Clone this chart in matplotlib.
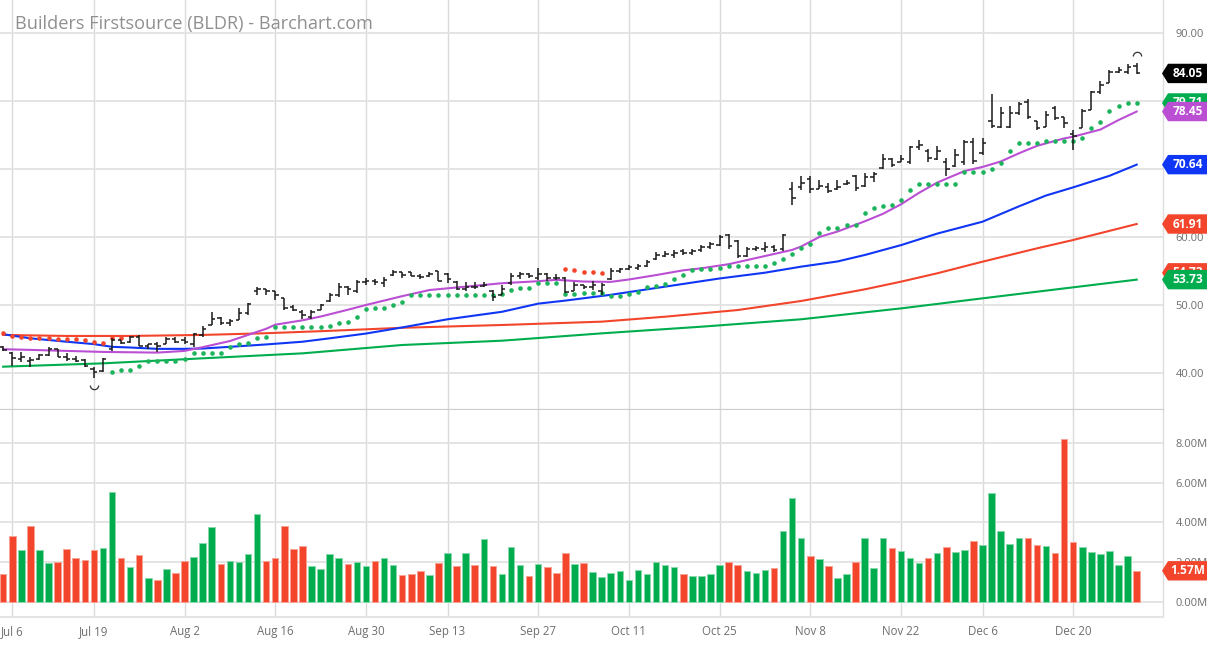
import numpy as np
import matplotlib.pyplot as plt
from matplotlib.patches import Polygon
from matplotlib.path import Path

plt.rcParams['font.family'] = ['Open Sans', 'DejaVu Sans']

# ---- daten (BLDR, 02.07.2021 - 30.12.2021, Handelstage) ----
opens = [43.8, 43.0, 42.0, 41.8, 42.0, 42.6, 43.5, 42.4, 42.0, 41.9,
         40.6, 40.3, 43.5, 44.8, 44.5, 45.3, 44.0, 44.2, 44.3, 45.0,
         44.9, 44.2, 45.6, 47.1, 48.1, 47.3, 47.8, 48.8, 52.0, 52.3,
         52.0, 51.0, 49.7, 49.0, 48.3, 49.3, 50.6, 51.4, 52.6, 52.0,
         53.4, 53.6, 53.3, 54.4, 54.8, 54.8, 54.2, 54.2, 55.0, 54.5,
         53.4, 52.3, 52.6, 52.8, 52.0, 51.5, 53.2, 54.3, 54.6, 53.9,
         54.5, 54.0, 53.9, 52.0, 52.9, 52.6, 52.0, 53.8, 55.0, 55.3,
         55.5, 55.8, 56.7, 57.2, 57.4, 57.9, 57.6, 58.1, 58.5, 58.8,
         60.3, 59.4, 57.2, 58.2, 58.3, 58.6, 58.2, 67.0, 67.3, 68.5,
         67.0, 67.4, 67.0, 67.8, 69.0, 67.5, 68.8, 70.2, 71.4, 71.1,
         71.0, 73.3, 72.7, 71.5, 71.0, 70.5, 71.0, 74.0, 72.3, 77.0,
         76.2, 76.2, 78.3, 79.8, 77.0, 76.2, 79.0, 77.6, 75.2, 76.0,
         78.7, 81.3, 82.6, 84.3, 84.2, 85.2]
highs = [43.9, 43.1, 43.1, 42.3, 42.8, 43.8, 43.5, 42.9, 42.5, 42.0,
         40.9, 42.2, 45.1, 44.9, 45.5, 45.6, 44.3, 44.6, 45.3, 45.3,
         45.3, 45.9, 46.9, 49.0, 48.2, 47.9, 49.5, 50.3, 52.7, 52.4,
         52.0, 51.0, 50.0, 49.3, 49.3, 50.2, 51.7, 53.2, 52.8, 53.7,
         53.9, 53.8, 54.1, 55.1, 54.9, 54.9, 54.6, 54.9, 55.05, 54.7,
         53.5, 53.4, 53.4, 53.4, 52.2, 52.9, 54.75, 54.9, 54.7, 55.4,
         54.7, 54.5, 54.1, 53.4, 53.0, 53.6, 53.2, 55.4, 55.5, 55.9,
         56.1, 56.6, 57.8, 58.0, 58.1, 58.2, 58.3, 58.8, 59.3, 60.3,
         60.5, 59.6, 58.6, 58.7, 59.3, 58.8, 60.4, 68.1, 68.9, 68.9,
         68.4, 67.9, 68.4, 68.4, 69.1, 69.4, 69.6, 72.2, 71.6, 72.06,
         73.4, 74.2, 72.9, 73.4, 71.6, 73.0, 74.3, 74.5, 74.5, 81.0,
         79.1, 79.2, 79.8, 80.25, 77.0, 78.6, 79.2, 77.7, 75.7, 78.8,
         81.5, 82.9, 84.56, 85.05, 85.5, 85.65]
lows = [43.3, 41.1, 41.6, 40.9, 41.9, 42.5, 42.3, 41.7, 41.6, 40.9,
        39.2, 40.2, 43.3, 44.2, 44.4, 43.9, 43.6, 43.1, 44.2, 44.4,
        44.3, 43.8, 45.3, 47.0, 47.0, 46.9, 47.8, 48.6, 51.5, 51.5,
        50.8, 49.2, 49.1, 48.0, 48.0, 49.2, 50.5, 51.2, 51.5, 51.8,
        52.9, 52.9, 52.7, 54.2, 53.9, 54.2, 53.8, 54.1, 53.5, 53.2,
        52.2, 52.0, 52.4, 52.7, 50.6, 51.5, 53.0, 53.8, 53.9, 53.7,
        53.6, 53.7, 51.7, 52.0, 52.3, 52.2, 51.5, 53.7, 54.7, 55.15,
        55.2, 55.6, 56.6, 57.0, 56.9, 57.35, 57.4, 57.8, 58.3, 58.7,
        58.3, 56.9, 57.1, 58.0, 57.8, 57.8, 58.0, 64.7, 66.9, 66.5,
        67.0, 66.5, 66.9, 67.6, 66.8, 67.4, 68.1, 70.0, 70.3, 71.1,
        70.8, 72.8, 71.1, 71.3, 69.0, 70.3, 70.6, 70.8, 72.06, 76.0,
        76.0, 76.0, 77.9, 77.4, 75.7, 76.2, 77.2, 76.0, 72.8, 76.0,
        78.7, 81.0, 82.6, 84.07, 84.0, 83.97]
closes = [43.4, 42.2, 42.4, 41.9, 42.6, 43.6, 42.4, 42.1, 41.8, 41.0,
          40.2, 42.0, 44.9, 44.4, 45.3, 44.0, 44.2, 44.0, 45.0, 44.6,
          44.5, 45.8, 46.4, 48.0, 47.4, 47.6, 48.8, 50.2, 52.3, 52.0,
          51.5, 49.6, 49.2, 48.5, 49.0, 50.0, 51.5, 52.6, 52.3, 53.4,
          53.6, 53.4, 53.7, 54.9, 54.4, 54.3, 54.1, 54.5, 53.6, 53.8,
          52.4, 52.7, 52.6, 53.0, 51.2, 52.4, 54.3, 54.6, 54.2, 54.6,
          54.0, 53.9, 51.9, 53.0, 52.6, 52.9, 53.0, 55.0, 55.3, 55.6,
          55.7, 56.3, 57.3, 57.5, 57.7, 57.6, 58.0, 58.5, 59.0, 60.0,
          58.7, 57.2, 58.2, 58.4, 58.6, 58.1, 60.3, 65.8, 68.0, 67.0,
          67.5, 66.8, 67.3, 67.9, 67.2, 68.8, 69.2, 71.5, 70.6, 71.4,
          73.2, 73.6, 71.6, 72.6, 70.0, 72.0, 74.0, 71.2, 73.8, 76.3,
          78.2, 78.3, 79.5, 77.6, 76.0, 77.9, 77.5, 76.8, 74.8, 78.6,
          81.3, 82.3, 84.2, 84.6, 85.0, 84.05]

# Volumen in Mio. Stueck, 1 = Schlusskurs gestiegen
volumen = [1.43, 3.31, 2.6, 3.81, 2.6, 1.98, 2.02, 2.66, 2.22, 2.1,
           2.6, 2.7, 5.51, 2.22, 1.75, 2.34, 1.19, 1.13, 1.68, 1.45,
           2.05, 2.25, 2.96, 3.78, 1.92, 2.05, 2.02, 2.39, 4.42, 2.05,
           2.22, 3.81, 2.69, 2.84, 1.8, 1.66, 2.39, 2.22, 1.9, 2.0,
           1.83, 2.05, 2.2, 1.85, 1.38, 1.41, 1.58, 1.38, 1.95, 2.49,
           1.8, 2.44, 1.85, 3.16, 1.8, 1.39, 2.76, 1.87, 1.33, 1.93,
           1.75, 1.45, 2.44, 1.93, 1.95, 1.5, 1.27, 1.45, 1.58, 1.09,
           1.63, 1.39, 2.02, 1.88, 1.75, 1.39, 1.33, 1.29, 1.41, 1.87,
           2.02, 1.87, 1.58, 1.46, 1.63, 1.7, 3.56, 5.24, 3.21, 2.29,
           2.18, 1.8, 1.23, 1.41, 2.02, 3.21, 1.73, 3.21, 2.71, 2.55,
           2.22, 1.95, 2.2, 2.44, 2.77, 2.54, 2.64, 3.09, 2.86, 5.48,
           3.58, 2.94, 3.21, 3.21, 2.89, 2.84, 2.47, 8.2, 3.01, 2.77,
           2.5, 2.39, 2.55, 1.88, 2.32, 1.57]
vol_up = [0, 0, 1, 0, 1, 1, 0, 0, 0, 0,
          0, 1, 1, 0, 1, 0, 1, 0, 1, 0,
          0, 1, 1, 1, 0, 1, 1, 1, 1, 0,
          0, 0, 0, 0, 1, 1, 1, 1, 0, 1,
          1, 0, 1, 1, 0, 0, 0, 1, 0, 1,
          0, 1, 0, 1, 0, 1, 1, 1, 0, 1,
          0, 0, 0, 1, 0, 1, 1, 1, 1, 1,
          1, 1, 1, 1, 1, 0, 1, 1, 1, 1,
          0, 0, 1, 1, 1, 0, 1, 1, 1, 0,
          1, 0, 1, 1, 0, 1, 1, 1, 0, 1,
          1, 1, 0, 1, 0, 1, 1, 0, 1, 1,
          1, 1, 1, 0, 0, 1, 0, 0, 0, 1,
          1, 1, 1, 1, 1, 0]

# Parabolic SAR (unten gruen / oben rot), None = kein Punkt
sar_unten = [None] * 12 + [
    40.2, 40.5, 40.44, 41.0, 41.8, 41.8, 41.8, 41.8,
    42.06, 42.9, 42.9, 42.9, 43.0, 43.77, 44.26, 44.46, 45.1, 45.34,
    46.7, 46.7, 46.7, 46.7, 46.7, 46.7, 46.9, 47.4, 47.55, 48.28,
    49.4, 49.5, 49.5, 50.0, 50.5, 51.4, 51.4, 51.4, 51.4, 51.4,
    51.4, 51.4, 51.4, 51.4, 51.45, 51.6, 52.2, 52.45, 52.55, 53.19,
    53.19, 53.19, 51.57, 51.57, 51.7, 51.7, 51.7, 51.27, 51.27, 51.6,
    51.86, 52.7, 52.75, 53.14, 53.77, 54.46, 55.15, 55.25, 55.25, 55.4,
    55.74, 55.74, 55.74, 55.74, 55.74, 56.13, 56.7, 57.45, 58.33, 58.97,
    60.54, 61.37, 61.37, 61.76, 61.76, 63.58, 64.3, 64.56, 64.7, 65.44,
    66.9, 67.8, 67.8, 67.8, 67.8, 67.8, 69.5, 69.5, 69.5, 70.0,
    70.93, 72.6, 73.87, 73.87, 73.87, 74.1, 74.17, 74.17, 74.17, 74.6,
    75.98, 76.96, 78.53, 79.26, 79.71, 79.71]
sar_oben = [45.93, 45.44, 45.25, 45.2, 45.2, 45.15, 45.0, 45.0, 45.0, 44.9,
            44.56, 44.36, 45.2, 45.2] + [None] * 48 + \
           [55.29, 55.2, 54.85, 54.85, 54.73] + [None] * 59

# gleitende Durchschnitte (Position, Wert)
ma20_x = [0, 3, 7, 11, 14, 17, 20, 22, 25, 27, 29, 30, 33, 35, 38, 40, 44, 47,
          51, 55, 59, 61, 64, 67, 69, 72, 75, 77, 80, 83, 85, 87, 88, 90, 92,
          95, 97, 99, 101, 103, 106, 108, 110, 112, 114, 117, 118, 121, 123, 125]
ma20_y = [43.5, 43.4, 43.25, 43.1, 43.05, 43.0, 43.25, 43.8, 44.7, 45.6, 46.5,
          47.1, 47.75, 48.3, 49.3, 50.0, 51.3, 52.2, 52.7, 53.2, 53.5, 53.7,
          53.45, 53.4, 53.75, 54.4, 55.1, 55.4, 56.0, 56.9, 57.5, 58.1, 58.6,
          60.0, 60.8, 62.3, 63.4, 64.8, 66.5, 68.0, 69.7, 70.3, 71.1, 72.3,
          73.4, 74.5, 74.75, 75.8, 77.2, 78.45]
ma50_x = [0, 3, 7, 10, 12, 14, 17, 20, 22, 25, 29, 33, 36, 40, 44, 49, 55, 59,
          62, 67, 73, 79, 84, 88, 92, 95, 99, 103, 108, 112, 115, 118, 122, 125]
ma50_y = [45.7, 45.1, 44.6, 44.25, 43.85, 43.75, 43.55, 43.55, 43.6, 43.85,
          44.2, 44.6, 45.1, 45.8, 46.7, 47.9, 49.0, 50.2, 50.65, 51.5, 52.7,
          53.9, 54.75, 55.64, 56.4, 57.35, 58.8, 60.5, 62.25, 64.5, 66.1,
          67.3, 69.0, 70.64]
ma100_x = [0, 7, 14, 22, 29, 36, 44, 55, 66, 73, 81, 88, 95, 99, 103, 108,
           114, 118, 125]
ma100_y = [45.6, 45.45, 45.45, 45.6, 45.85, 46.2, 46.65, 47.06, 47.55, 48.28,
           49.26, 50.59, 52.3, 53.43, 54.66, 56.37, 58.33, 59.56, 61.91]
ma200_x = [0, 11, 22, 33, 44, 55, 66, 77, 88, 99, 108, 118, 125]
ma200_y = [40.93, 41.42, 42.16, 42.89, 44.12, 44.75, 45.83, 46.81, 47.9,
           49.5, 50.98, 52.6, 53.73]

tick_pos = [1, 10, 20, 30, 40, 49, 59, 69, 79, 89, 99, 108, 118]
tick_labels = ["Jul 6", "Jul 19", "Aug 2", "Aug 16", "Aug 30", "Sep 13",
               "Sep 27", "Oct 11", "Oct 25", "Nov 8", "Nov 22", "Dec 6",
               "Dec 20"]

# ---- Farben ----
GRUEN = "#00ad4e"
ROT = "#f2452b"
MAGENTA = "#bb4fd4"
BLAU = "#1036f5"
GRID = "#e2e2e2"

W, H = 1219, 645
fig = plt.figure(figsize=(W / 100, H / 100), dpi=100)
ax = fig.add_axes([0, 1 - 410 / H, 1163 / W, 410 / H])
axv = fig.add_axes([0, 1 - 617 / H, 1163 / W, 207 / H], sharex=ax)

idx = np.arange(len(closes))
o = np.array(opens)
c = np.array(closes)

# Preis-Panel
ax.plot(ma200_x, ma200_y, color=GRUEN, lw=1.5, zorder=3)
ax.plot(ma100_x, ma100_y, color=ROT, lw=1.5, zorder=3)
ax.plot(ma50_x, ma50_y, color=BLAU, lw=1.5, zorder=3)
ax.plot(ma20_x, ma20_y, color=MAGENTA, lw=1.5, zorder=3)

su = np.array([np.nan if v is None else v for v in sar_unten])
so = np.array([np.nan if v is None else v for v in sar_oben])
ax.plot(idx, su, "o", ms=3.3, color="#1db35c", mec="none", zorder=3.5)
ax.plot(idx, so, "o", ms=3.3, color=ROT, mec="none", zorder=3.5)

ax.vlines(idx, lows, highs, color="#1a1a1a", lw=1.1, zorder=4)
ax.hlines(o, idx - 0.38, idx, color="#1a1a1a", lw=1.1, zorder=4)
ax.hlines(c, idx, idx + 0.38, color="#1a1a1a", lw=1.1, zorder=4)

# Hoch/Tief-Markierung
hi = int(np.argmax(highs))
lo = int(np.argmin(lows))
ax.plot(hi, highs[hi] + 0.9, marker=Path.arc(0, 180), ms=6, mfc="none",
        mec="#333333", mew=0.9, zorder=4)
ax.plot(lo, lows[lo] - 0.9, marker=Path.arc(180, 360), ms=6, mfc="none",
        mec="#333333", mew=0.9, zorder=4)

ax.set_xlim(-0.35, 127.9)
ax.set_ylim(34.56, 94.85)
ax.set_yticks([40, 50, 60, 70, 80, 90])
ax.set_yticklabels([f"{v:.2f}" for v in [40, 50, 60, 70, 80, 90]])

# Volumen-Panel
farben = [GRUEN if u else ROT for u in vol_up]
kanten = ["#8ad9ad" if u else "#f9a393" for u in vol_up]
axv.bar(idx, volumen, width=0.72, color=farben, edgecolor=kanten,
        linewidth=0.7, zorder=3)
axv.set_ylim(-0.755, 9.66)
axv.set_yticks([0, 2, 4, 6, 8])
axv.set_yticklabels([f"{v:.2f}M" for v in [0, 2, 4, 6, 8]])
axv.set_xticks(tick_pos)
axv.set_xticklabels(tick_labels)

for a in (ax, axv):
    a.set_facecolor("white")
    a.grid(True, axis="y", color=GRID, lw=1.3, zorder=0)
    a.grid(True, axis="x", color="#dadada", lw=1.0, zorder=0)
    a.yaxis.tick_right()
    a.tick_params(axis="y", length=0, pad=9, labelsize=8, labelcolor="#6e6e6e")
    a.tick_params(axis="x", length=0, pad=6, labelsize=8.3, labelcolor="#6e6e6e")
    for s in ("top", "left"):
        a.spines[s].set_visible(False)
    a.spines["right"].set_color("#dddddd")
    a.spines["right"].set_linewidth(1.0)
ax.tick_params(axis="x", labelbottom=False)
ax.spines["bottom"].set_color("#cccccc")
ax.spines["bottom"].set_linewidth(1.6)
ax.spines["bottom"].set_zorder(6)
axv.spines["bottom"].set_color(GRID)
axv.spines["bottom"].set_linewidth(1.3)


def marke(achse, wert, text, farbe, z):
    # Preisschild rechts am Rand
    y = achse.transData.transform((0, wert))[1]
    x0, x1, h = 1162, 1207, 9.7
    pkt = [(x0, y), (x0 + 6, y + h), (x1, y + h), (x1, y - h), (x0 + 6, y - h)]
    fig.add_artist(Polygon([(px / W, py / H) for px, py in pkt], closed=True,
                           transform=fig.transFigure, facecolor=farbe,
                           edgecolor="none", zorder=z))
    fig.add_artist(plt.Text((x0 + 6 + x1) / 2 / W, y / H, text, color="white",
                            fontsize=8.6, fontweight="bold", ha="center",
                            va="center", transform=fig.transFigure,
                            zorder=z + 0.5))


marke(ax, closes[-1], f"{closes[-1]:.2f}", "#000000", 10)
marke(ax, sar_unten[-1], f"{sar_unten[-1]:.2f}", GRUEN, 11)
marke(ax, ma20_y[-1], f"{ma20_y[-1]:.2f}", MAGENTA, 12)
marke(ax, ma50_y[-1], f"{ma50_y[-1]:.2f}", BLAU, 13)
marke(ax, ma100_y[-1], f"{ma100_y[-1]:.2f}", ROT, 14)
marke(ax, sar_oben[66], f"{sar_oben[66]:.2f}", ROT, 15)
marke(ax, ma200_y[-1], f"{ma200_y[-1]:.2f}", GRUEN, 16)
marke(axv, volumen[-1], f"{volumen[-1]:.2f}M", ROT, 17)

fig.text(15 / W, 1 - 29.5 / H, "Builders Firstsource (BLDR) - Barchart.com",
         fontsize=13.1, color="#8f8f8f", ha="left", va="baseline")

fig.savefig("out.png", dpi=100)
